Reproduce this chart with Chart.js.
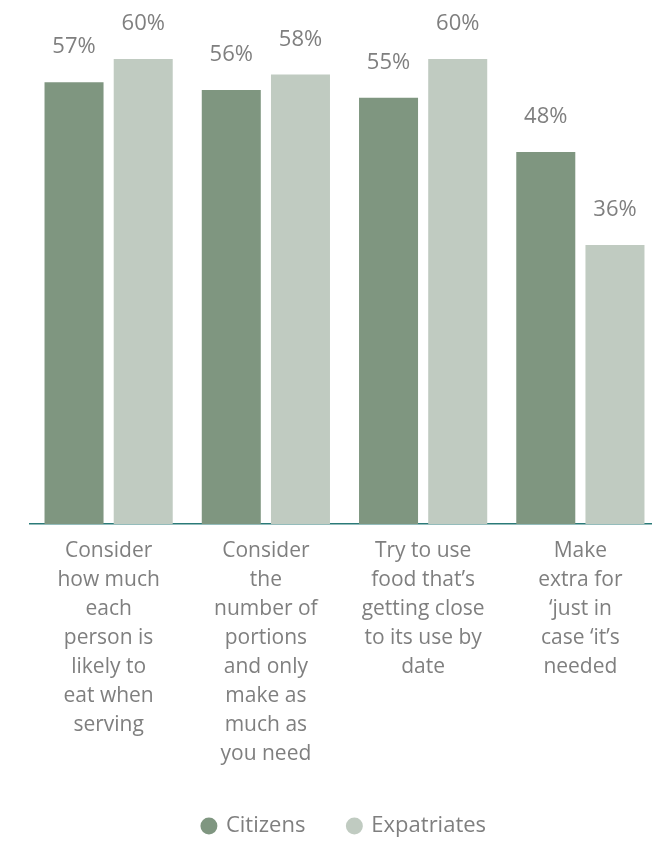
<!DOCTYPE html>
<html>
<head>
<meta charset="utf-8">
<script src="https://cdn.jsdelivr.net/npm/chart.js@4.4.1/dist/chart.umd.min.js"></script>
<style>
  html, body { margin: 0; padding: 0; background: #fff; overflow: hidden; }
  #wrap { width: 690px; height: 842px; }
</style>
</head>
<body>
<div id="wrap"><canvas id="barChart" width="690" height="842"></canvas></div>
<script>
var categories = [
    ["Consider", "how much", "each", "person is", "likely to", "eat when", "serving"],
    ["Consider", "the", "number of", "portions", "and only", "make as", "much as", "you need"],
    ["Try to use", "food that\u2019s", "getting close", "to its use by", "date"],
    ["Make", "extra for", "\u2018just in", "case \u2018it\u2019s", "needed"]
];
var citizens    = [57, 56, 55, 48];
var expatriates = [60, 58, 60, 36];

var textGrey  = '#7f7f7f';
var fontName  = "'Open Sans', sans-serif";

// prints "57%" etc. above each bar
var valueLabels = {
    id: 'valueLabels',
    afterDatasetsDraw: function (chart) {
        var ctx = chart.ctx;
        ctx.save();
        ctx.font = '22px ' + fontName;
        ctx.fillStyle = textGrey;
        ctx.textAlign = 'center';
        ctx.textBaseline = 'alphabetic';
        chart.data.datasets.forEach(function (ds, i) {
            chart.getDatasetMeta(i).data.forEach(function (bar, j) {
                ctx.fillText(ds.data[j] + '%', bar.x, bar.y - 29);
            });
        });
        ctx.restore();
    }
};

var ctxB = document.getElementById('barChart').getContext('2d');
var myChart = new Chart(ctxB, {
    type: 'bar',
    data: {
        labels: categories,
        datasets: [{
            label: 'Citizens',
            data: citizens,
            backgroundColor: '#7f9680',
            borderWidth: 0
        }, {
            label: 'Expatriates',
            data: expatriates,
            backgroundColor: '#c0cbc1',
            borderWidth: 0
        }]
    },
    options: {
        responsive: false,
        animation: false,
        layout: {
            padding: { top: 59, left: 30, right: 31, bottom: -5 }
        },
        datasets: {
            bar: { categoryPercentage: 0.88, barPercentage: 0.853 }
        },
        scales: {
            x: {
                grid: { display: false },
                border: { display: true, color: '#2b7a78', width: 1.5 },
                ticks: {
                    color: textGrey,
                    font: { family: fontName, size: 21, lineHeight: 29 / 21 },
                    maxRotation: 0,
                    autoSkip: false,
                    padding: 5
                },
                afterFit: function (scale) {
                    scale.height = 248;
                }
            },
            y: {
                display: false,
                min: 0,
                max: 60
            }
        },
        plugins: {
            legend: {
                display: true,
                position: 'bottom',
                labels: {
                    usePointStyle: true,
                    pointStyle: 'circle',
                    boxWidth: 12,
                    boxHeight: 12,
                    padding: 43,
                    color: textGrey,
                    font: { family: fontName, size: 22 }
                }
            },
            tooltip: { enabled: false }
        }
    },
    plugins: [valueLabels]
});
</script>
</body>
</html>
